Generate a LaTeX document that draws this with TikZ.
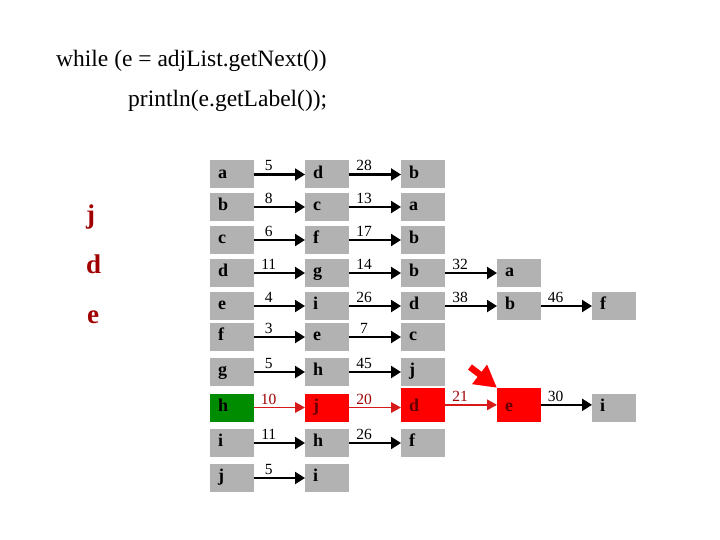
\documentclass[tikz,border=0pt]{standalone}
\usepackage{fontspec}
\setmainfont{Liberation Serif}
\usetikzlibrary{arrows.meta}
\definecolor{cellgray}{RGB}{178,178,178}
\definecolor{hotred}{RGB}{255,0,0}
\definecolor{visitgreen}{RGB}{0,140,0}
\definecolor{darkred}{RGB}{160,0,0}
\definecolor{inkred}{RGB}{100,0,0}
\definecolor{linkred}{RGB}{215,25,25}
\begin{document}
\begin{tikzpicture}[x=1pt,y=-1pt,
  cell/.style={rectangle,fill=cellgray,anchor=west,minimum width=43.5pt,minimum height=28pt,
    inner ysep=0pt,inner xsep=8pt,text width=27.5pt,align=left,text height=7.5pt,text depth=0pt,
    font=\fontsize{18}{18}\selectfont\bfseries},
  tallcell/.style={cell,minimum height=33.7pt,text height=12.8pt},
  link/.style={-{Triangle[length=10pt,width=12pt]},line width=2.2pt},
  redlink/.style={-{Triangle[length=10pt,width=10.5pt]},line width=1.9pt,draw=linkred},
  num/.style={above,pos=0.29,inner sep=2.5pt,text depth=0pt,font=\fontsize{15.5}{15.5}\selectfont},
  pointer/.style={-{Triangle[length=22pt,width=23pt]},line width=6.5pt,draw=hotred}]
\path[use as bounding box] (0,0) rectangle (720,540);
% code lines
\node[anchor=base west,inner sep=0pt,font=\fontsize{23.5}{28}\selectfont] (code1) at (56,67) {while (e = adjList.getNext())};
\node[anchor=base west,inner sep=0pt,font=\fontsize{23.5}{28}\selectfont] (code2) at (128,107) {println(e.getLabel());};
% queue
\node[anchor=base west,inner sep=0pt,text=darkred,font=\fontsize{27}{27}\selectfont\bfseries] (qj) at (86,223) {j};
\node[anchor=base west,inner sep=0pt,text=darkred,font=\fontsize{27}{27}\selectfont\bfseries] (qd) at (86,273) {d};
\node[anchor=base west,inner sep=0pt,text=darkred,font=\fontsize{27}{27}\selectfont\bfseries] (qe) at (87,323) {e};
% adjacency lists
\node[cell] (a0) at (210,174.5) {a};
\node[cell] (a1) at (305,174.5) {d};
\node[cell] (a2) at (401,174.5) {b};
\draw[link] (a0) -- node[num] {5} (a1);
\draw[link] (a1) -- node[num] {28} (a2);
\node[cell] (b0) at (210,207) {b};
\node[cell] (b1) at (305,207) {c};
\node[cell] (b2) at (401,207) {a};
\draw[link] (b0) -- node[num] {8} (b1);
\draw[link] (b1) -- node[num] {13} (b2);
\node[cell] (c0) at (210,240) {c};
\node[cell] (c1) at (305,240) {f};
\node[cell] (c2) at (401,240) {b};
\draw[link] (c0) -- node[num] {6} (c1);
\draw[link] (c1) -- node[num] {17} (c2);
\node[cell] (d0) at (210,273) {d};
\node[cell] (d1) at (305,273) {g};
\node[cell] (d2) at (401,273) {b};
\node[cell] (d3) at (497,273) {a};
\draw[link] (d0) -- node[num] {11} (d1);
\draw[link] (d1) -- node[num] {14} (d2);
\draw[link] (d2) -- node[num] {32} (d3);
\node[cell] (e0) at (210,306) {e};
\node[cell] (e1) at (305,306) {i};
\node[cell] (e2) at (401,306) {d};
\node[cell] (e3) at (497,306) {b};
\node[cell] (e4) at (592,306) {f};
\draw[link] (e0) -- node[num] {4} (e1);
\draw[link] (e1) -- node[num] {26} (e2);
\draw[link] (e2) -- node[num] {38} (e3);
\draw[link] (e3) -- node[num] {46} (e4);
\node[cell] (f0) at (210,337) {f};
\node[cell] (f1) at (305,337) {e};
\node[cell] (f2) at (401,337) {c};
\draw[link] (f0) -- node[num] {3} (f1);
\draw[link] (f1) -- node[num] {7} (f2);
\node[cell] (g0) at (210,372) {g};
\node[cell] (g1) at (305,372) {h};
\node[cell] (g2) at (401,372) {j};
\draw[link] (g0) -- node[num] {5} (g1);
\draw[link] (g1) -- node[num] {45} (g2);
\node[cell,fill=visitgreen] (h0) at (210,407.5) {h};
\node[cell,fill=hotred,text=inkred] (h1) at (305,407.5) {j};
\node[tallcell,fill=hotred,text=inkred] (h2) at (401,404.85) {d};
\node[tallcell,fill=hotred,text=inkred] (h3) at (497,404.85) {e};
\node[cell] (h4) at (592,407.5) {i};
\draw[redlink] (h0) -- node[num,text=darkred] {10} (h1);
\draw[redlink] (h1.east) -- node[num,text=darkred] {20} (h1.east -| h2.west);
\draw[redlink] (h2) -- node[num,text=darkred] {21} (h3);
\draw[link] (h3.east) -- node[num] {30} (h3.east -| h4.west);
\node[cell] (i0) at (210,443) {i};
\node[cell] (i1) at (305,443) {h};
\node[cell] (i2) at (401,443) {f};
\draw[link] (i0) -- node[num] {11} (i1);
\draw[link] (i1) -- node[num] {26} (i2);
\node[cell] (j0) at (210,478) {j};
\node[cell] (j1) at (305,478) {i};
\draw[link] (j0) -- node[num] {5} (j1);
% current edge
\coordinate (cursor) at (470,367);
\draw[pointer] (cursor) -- (h3.north west);
\end{tikzpicture}
\end{document}
